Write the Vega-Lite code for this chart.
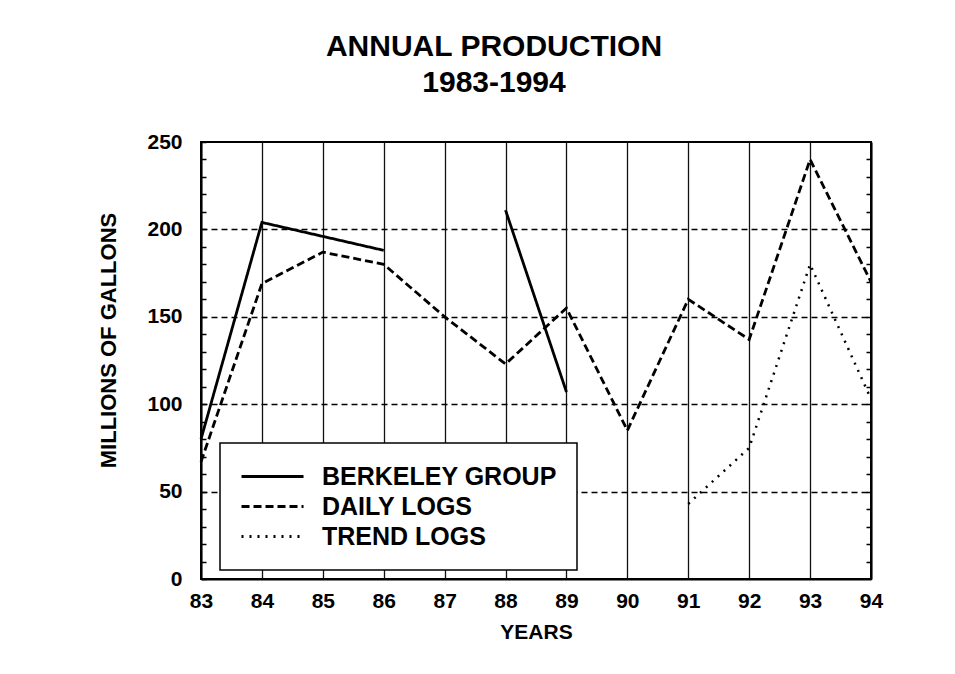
{
  "$schema": "https://vega.github.io/schema/vega-lite/v6.json",
  "width": 670,
  "height": 437,
  "autosize": {"type": "none"},
  "padding": {"left": 201, "top": 142, "right": 84, "bottom": 95},
  "background": "white",
  "config": {
    "font": "Liberation Sans",
    "view": {"stroke": "black", "strokeWidth": 2}
  },
  "title": {
    "text": ["ANNUAL PRODUCTION", "1983-1994"],
    "fontSize": 30,
    "fontWeight": "bold",
    "lineHeight": 36,
    "anchor": "middle",
    "dx": -42,
    "offset": 33,
    "color": "black"
  },
  "data": {
    "values": [
      {"year": 83, "value": 80, "series": "BERKELEY GROUP", "seg": "a"},
      {"year": 84, "value": 204, "series": "BERKELEY GROUP", "seg": "a"},
      {"year": 85, "value": 196, "series": "BERKELEY GROUP", "seg": "a"},
      {"year": 86, "value": 188, "series": "BERKELEY GROUP", "seg": "a"},
      {"year": 88, "value": 211, "series": "BERKELEY GROUP", "seg": "b"},
      {"year": 89, "value": 107, "series": "BERKELEY GROUP", "seg": "b"},
      {"year": 83, "value": 67, "series": "DAILY LOGS", "seg": "a"},
      {"year": 84, "value": 169, "series": "DAILY LOGS", "seg": "a"},
      {"year": 85, "value": 187, "series": "DAILY LOGS", "seg": "a"},
      {"year": 86, "value": 180, "series": "DAILY LOGS", "seg": "a"},
      {"year": 87, "value": 150, "series": "DAILY LOGS", "seg": "a"},
      {"year": 88, "value": 123, "series": "DAILY LOGS", "seg": "a"},
      {"year": 89, "value": 155, "series": "DAILY LOGS", "seg": "a"},
      {"year": 90, "value": 85, "series": "DAILY LOGS", "seg": "a"},
      {"year": 91, "value": 160, "series": "DAILY LOGS", "seg": "a"},
      {"year": 92, "value": 137, "series": "DAILY LOGS", "seg": "a"},
      {"year": 93, "value": 240, "series": "DAILY LOGS", "seg": "a"},
      {"year": 94, "value": 170, "series": "DAILY LOGS", "seg": "a"},
      {"year": 91, "value": 43, "series": "TREND LOGS", "seg": "a"},
      {"year": 92, "value": 75, "series": "TREND LOGS", "seg": "a"},
      {"year": 93, "value": 180, "series": "TREND LOGS", "seg": "a"},
      {"year": 94, "value": 103, "series": "TREND LOGS", "seg": "a"}
    ]
  },
  "resolve": {"axis": {"y": "independent", "x": "shared"}, "scale": {"y": "shared"}},
  "layer": [
    {
      "transform": [{"filter": "datum.series !== 'TREND LOGS'"}],
      "mark": {"type": "line", "color": "black", "strokeWidth": 2.8},
      "encoding": {
        "x": {
          "field": "year", "type": "quantitative",
          "scale": {"domain": [83, 94], "nice": false},
          "axis": {
            "values": [83, 84, 85, 86, 87, 88, 89, 90, 91, 92, 93, 94],
            "format": "d", "labelOverlap": false, "labelFlush": false,
            "title": "YEARS",
            "titleFontSize": 21, "titleFontWeight": "bold", "titleColor": "black", "titlePadding": 10,
            "labelFontSize": 21, "labelFontWeight": "bold", "labelColor": "black", "labelPadding": 11,
            "ticks": false, "tickSize": 0,
            "domainColor": "black", "domainWidth": 2,
            "grid": true, "gridColor": "#111111", "gridWidth": 1.3, "gridOpacity": 1
          }
        },
        "y": {
          "field": "value", "type": "quantitative",
          "scale": {"domain": [0, 250], "nice": false},
          "axis": {
            "values": [0, 10, 20, 30, 40, 50, 60, 70, 80, 90, 100, 110, 120, 130, 140, 150, 160, 170, 180, 190, 200, 210, 220, 230, 240, 250],
            "labelExpr": "datum.value % 50 === 0 ? datum.label : ''",
            "title": "MILLIONS OF GALLONS",
            "titleFontSize": 22, "titleFontWeight": "bold", "titleColor": "black", "titlePadding": 26, "titleY": 198,
            "labelFontSize": 21, "labelFontWeight": "bold", "labelColor": "black", "labelPadding": 24,
            "tickSize": -5, "tickColor": "black", "tickWidth": 1.5,
            "domainColor": "black", "domainWidth": 2,
            "grid": true, "gridColor": "black", "gridWidth": 1.3, "gridDash": [6, 4],
            "gridOpacity": {"condition": {"test": "datum.value % 50 === 0 && datum.value > 0 && datum.value < 250", "value": 1}, "value": 0}
          }
        },
        "detail": {"field": "seg"},
        "strokeDash": {
          "field": "series", "type": "nominal",
          "scale": {"domain": ["BERKELEY GROUP", "DAILY LOGS", "TREND LOGS"], "range": [[1, 0], [8, 4], [2, 6]]},
          "legend": {
            "orient": "none", "legendX": 19, "legendY": 301,
            "title": null,
            "strokeColor": "black", "fillColor": "white", "padding": 20,
            "symbolType": "M-1,0H4.17", "symbolSize": 576, "symbolStrokeWidth": 3, "symbolStrokeColor": "black",
            "labelFontSize": 25, "labelFontWeight": "bold", "labelColor": "black", "labelOffset": 55,
            "labelLimit": 400, "rowPadding": 3,
            "encode": {"legend": {"update": {"strokeWidth": {"value": 1.5}}}}
          }
        }
      }
    },
    {
      "transform": [{"filter": "datum.series === 'TREND LOGS'"}],
      "mark": {"type": "line", "color": "black", "strokeWidth": 2.5},
      "encoding": {
        "x": {"field": "year", "type": "quantitative", "scale": {"domain": [83, 94], "nice": false}},
        "y": {
          "field": "value", "type": "quantitative",
          "axis": {
            "orient": "right",
            "values": [10, 20, 30, 40, 50, 60, 70, 80, 90, 100, 110, 120, 130, 140, 150, 160, 170, 180, 190, 200, 210, 220, 230, 240],
            "labels": false, "title": null, "grid": false,
            "tickSize": -5, "tickColor": "black", "tickWidth": 1.5,
            "domainColor": "black", "domainWidth": 2
          }
        },
        "strokeDash": {"field": "series", "type": "nominal"}
      }
    }
  ]
}
